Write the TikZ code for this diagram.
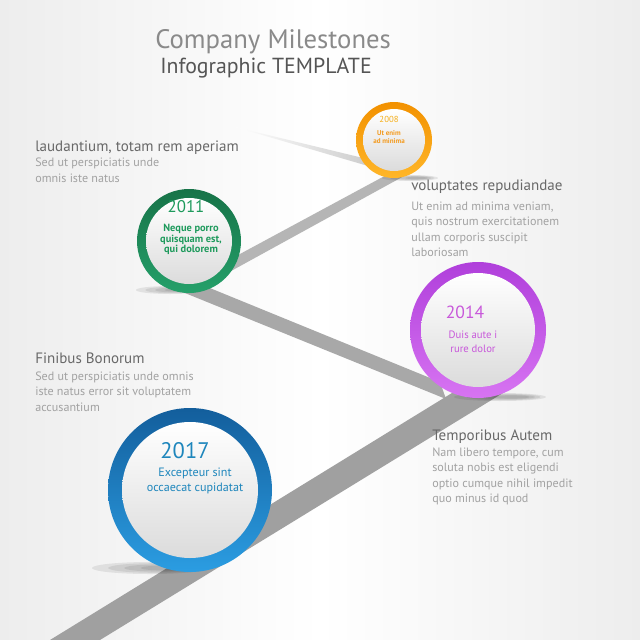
\documentclass[tikz,border=0pt]{standalone}
\usepackage{fontspec}
\setmainfont{PT Sans}
\usepackage{tikz}
\usetikzlibrary{positioning}
\definecolor{bgside}{HTML}{EDEDED}
\definecolor{road}{HTML}{A8A8A8}
\definecolor{roadlight}{HTML}{C4C4C4}
\definecolor{titlegray}{HTML}{8A8A8A}
\definecolor{subgray}{HTML}{555555}
\definecolor{headgray}{HTML}{686868}
\definecolor{bodygray}{HTML}{A2A2A2}
\definecolor{orangelt}{HTML}{FFB629}
\definecolor{orangedk}{HTML}{F29100}
\definecolor{orangetxt}{HTML}{F39A1E}
\definecolor{greenlt}{HTML}{25A06A}
\definecolor{greendk}{HTML}{177348}
\definecolor{greentxt}{HTML}{1E9A5C}
\definecolor{purplelt}{HTML}{D774F2}
\definecolor{purpledk}{HTML}{B03FDB}
\definecolor{purpletxt}{HTML}{C858DA}
\definecolor{bluelt}{HTML}{2B9DE2}
\definecolor{bluedk}{HTML}{135E9C}
\definecolor{bluetxt}{HTML}{1E86BC}
\tikzset{
  headtxt/.style={anchor=base west,inner sep=0pt,text=headgray,font=\fontsize{10.7}{12}\selectfont},
  bodytxt/.style={anchor=north west,inner sep=0pt,align=left,text=bodygray,font=\fontsize{8.6}{11}\selectfont},
  yeartxt/.style={anchor=base,inner sep=0pt},
  circtxt/.style={anchor=north,inner sep=0pt,align=center},
  roadband/.style={fill=road},
  shadowblob/.style={fill=black,opacity=0.08}
}

\begin{document}
\begin{tikzpicture}[x=0.025cm,y=-0.025cm]
  % background
  \shade[left color=bgside,right color=bgside,middle color=white] (0,0) rectangle (640,640);
  \useasboundingbox (0,0) rectangle (640,640);

  % road
  \shade[left color=white,right color=roadlight] (235,127) -- (392,165) -- (392,173) -- cycle;
  \fill[roadband,fill=road!85] (392,172) -- (404,176) -- (222,276) -- (214,268) -- cycle;
  \fill[roadband] (200,284) -- (440,382) -- (446,399) -- (180,291) -- cycle;
  \fill[roadband,fill=road!95!black] (465,385) -- (516,385) -- (100,640) -- (50,640) -- cycle;

  % shadows
  \foreach \sx/\sy/\a/\b in {410/178/28/3,170/290/34/4,500/397/46/4,150/568/58/6} {
    \foreach \k in {1.0,0.8,0.6,0.4} {
      \fill[shadowblob] (\sx+\a*0.4-\a*0.4*\k,\sy) ellipse ({\a*\k} and {\b*\k});
    }
  }

  % milestones
  \foreach \nm/\cx/\cy/\r/\w/\lt/\dk in {m2008/394/140/38/7/orangelt/orangedk,
      m2011/189/241/52/9/greenlt/greendk,
      m2014/478/330/68/11/purplelt/purpledk,
      m2017/190/490/82/14/bluelt/bluedk} {
    \shade[top color=\dk,bottom color=\lt] (\cx,\cy) circle (\r);
    \shade[top color=white,bottom color=black!14] (\cx,\cy) circle (\r-\w);
    \coordinate (\nm) at (\cx,\cy);
  }

  % circle texts
  \node[yeartxt,text=orangetxt!80!yellow,font=\fontsize{6.2}{6.2}\selectfont] (y2008) at (389,122.3) {2008};
  \node[circtxt,text=orangetxt,font=\bfseries\fontsize{5}{5.9}\selectfont] (t2008) at (389,130) {Ut enim\\ad minima};
  \node[yeartxt,text=greentxt,font=\fontsize{12}{12}\selectfont] (y2011) at (186,212) {2011};
  \node[circtxt,text=greentxt,font=\bfseries\fontsize{7.4}{7.45}\selectfont] (t2011) at (191,224) {Neque porro\\quisquam est,\\qui dolorem};
  \node[yeartxt,text=purpletxt,font=\fontsize{12.5}{12.5}\selectfont] (y2014) at (465,318.3) {2014};
  \node[circtxt,text=purpletxt,font=\fontsize{7.6}{9.5}\selectfont] (t2014) at (473,330.8) {Duis aute i\\rure dolor};
  \node[yeartxt,text=bluetxt,font=\fontsize{16}{16}\selectfont] (y2017) at (185,458.3) {2017};
  \node[circtxt,text=bluetxt,font=\fontsize{8.6}{11.1}\selectfont] (t2017) at (195,467.5) {Excepteur sint\\occaecat cupidatat};

  % title
  \node[anchor=base west,inner sep=0pt,text=titlegray,font=\fontsize{19}{22}\selectfont] (title) at (155,48) {Company Milestones};
  \node[anchor=base west,inner sep=0pt,text=subgray,font=\fontsize{15.5}{18}\selectfont] (subtitle) at (160,73) {Infographic TEMPLATE};

  % side texts
  \node[headtxt] (h1) at (35,151) {laudantium, totam rem aperiam};
  \node[bodytxt] (b1) at (35,158) {Sed ut perspiciatis unde\\omnis iste natus};
  \node[headtxt] (h2) at (411,190.7) {voluptates repudiandae};
  \node[bodytxt] (b2) at (411,201.3) {Ut enim ad minima veniam,\\quis nostrum exercitationem\\ullam corporis suscipit\\laboriosam};
  \node[headtxt] (h3) at (35,363.3) {Finibus Bonorum};
  \node[bodytxt] (b3) at (35,371.3) {Sed ut perspiciatis unde omnis\\iste natus error sit voluptatem\\accusantium};
  \node[headtxt] (h4) at (432,440) {Temporibus Autem};
  \node[bodytxt] (b4) at (432,447.3) {Nam libero tempore, cum\\soluta nobis est eligendi\\optio cumque nihil impedit\\quo minus id quod};
\end{tikzpicture}
\end{document}
